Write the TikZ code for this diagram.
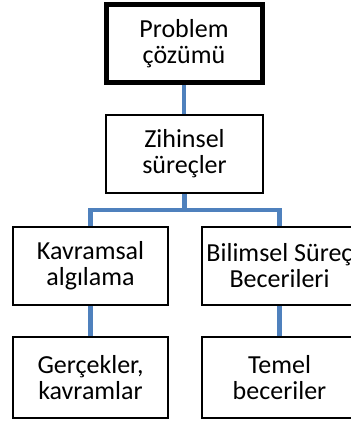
\documentclass[tikz,border=0pt]{standalone}
\usepackage{fontspec}
\setmainfont{Carlito}
\usepackage{tikz}
\usetikzlibrary{backgrounds}
\definecolor{office blue}{HTML}{4F81BD}

\begin{document}
\begin{tikzpicture}[x=1pt, y=-1pt,
		box/.style={draw, line width=1.8pt, minimum width=155pt, minimum height=78pt,
			align=center, inner sep=2pt, font=\fontsize{26}{26}\selectfont},
		conn/.style={draw=office blue, line width=4.6pt}]
			\clip (0,0) rectangle (351,421);
			% top levels
			\node[box, line width=5pt, minimum width=156pt, minimum height=77.5pt] (prob) at (184,43.25) {Problem\\çözümü};
			\node[box, minimum width=156.5pt] (zih) at (184.5,154) {Zihinsel\\süreçler};
			% two branches
			\node[box] (kav) at (90.5,266) {Kavramsal\\algılama};
			\node[box] (bil) at (279.5,266) {Bilimsel Süreç\\Becerileri};
			\node[box, minimum height=81pt] (ger) at (90.5,377.5) {Gerçekler,\\kavramlar};
			\node[box, minimum height=81pt] (tem) at (279.5,377.5) {Temel\\beceriler};
			\coordinate (fork) at (184.5,210);
			% connectors
			\begin{scope}[on background layer]
				\draw[conn] (prob.south) -- (prob.south |- zih.north);
				\draw[conn] (zih.south) -- (fork);
				\draw[conn] (kav.north) |- (fork) -| (bil.north);
				\draw[conn] (kav) -- (ger);
				\draw[conn] (bil) -- (tem);
			\end{scope}
		\end{tikzpicture}
\end{document}
